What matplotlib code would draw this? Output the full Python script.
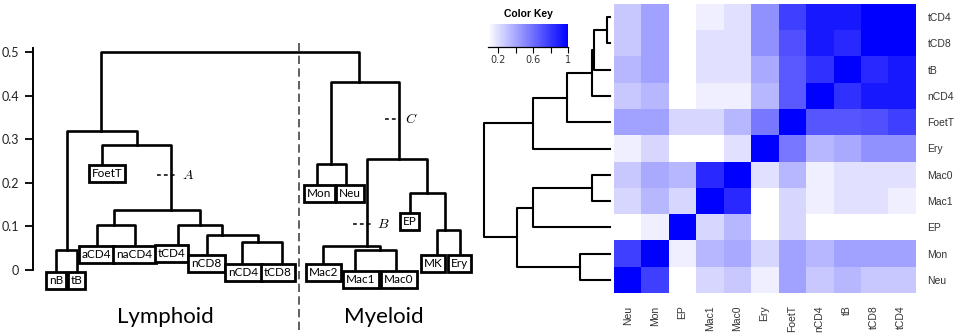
import matplotlib.pyplot as plt
from matplotlib.colors import LinearSegmentedColormap
from matplotlib.cm import ScalarMappable
from matplotlib.colors import Normalize

plt.rcParams["mathtext.fontset"] = "cm"

# ---- left panel: hand drawn tree (x in px, height in distance units) ----
tree_pos = {
    "root": (230, 0.500),
    "Lymph": (101, 0.319), "Myel": (359, 0.431),
    "BB": (66.7, 0.046), "L2": (136.7, 0.287),
    "T": (171, 0.138), "T1": (114, 0.103), "T2": (200, 0.103),
    "T3": (222, 0.080), "T4": (258, 0.065),
    "MN": (331, 0.243), "M2": (399, 0.255), "Mac": (367, 0.055),
    "M01": (380, 0.046), "EPg": (427, 0.177), "MKE": (445, 0.092),
    "nB": (56, 0.0), "tB": (77, 0.0), "FoetT": (102, 0.245),
    "aCD4": (97, 0.060), "naCD4": (135, 0.060), "tCD4": (178, 0.062),
    "nCD8": (207, 0.039), "nCD4": (242, 0.018), "tCD8": (282, 0.018),
    "Mon": (317, 0.200), "Neu": (346, 0.200), "Mac2": (323, 0.018),
    "Mac1": (355, 0.002), "Mac0": (396, 0.002), "EP": (410, 0.135),
    "MK": (437, 0.039), "Ery": (460, 0.039),
}
tree_merges = [
    ("root", "Lymph", "Myel"),
    ("Lymph", "BB", "L2"), ("BB", "nB", "tB"),
    ("L2", "FoetT", "T"), ("T", "T1", "T2"),
    ("T1", "aCD4", "naCD4"), ("T2", "tCD4", "T3"),
    ("T3", "nCD8", "T4"), ("T4", "nCD4", "tCD8"),
    ("Myel", "MN", "M2"), ("MN", "Mon", "Neu"),
    ("M2", "Mac", "EPg"), ("Mac", "Mac2", "M01"),
    ("M01", "Mac1", "Mac0"), ("EPg", "EP", "MKE"), ("MKE", "MK", "Ery"),
]
leaf_box_x = {
    "nB": 56, "tB": 76.5, "FoetT": 107, "aCD4": 96.5, "naCD4": 134.5,
    "tCD4": 171.5, "nCD8": 206.5, "nCD4": 243.5, "tCD8": 278,
    "Mon": 319.5, "Neu": 350, "Mac2": 323.5, "Mac1": 361, "Mac0": 399,
    "EP": 409.5, "MK": 433, "Ery": 459.5,
}
y_ticks = [0, 0.1, 0.2, 0.3, 0.4, 0.5]
# split markers: (x from, x to, height, label)
markers = [(157, 177, 0.218, "A"), (353, 372, 0.106, "B"), (385, 400, 0.346, "C")]

# ---- right panel: heatmap ----
heat_rows = ["tCD4", "tCD8", "tB", "nCD4", "FoetT", "Ery", "Mac0", "Mac1", "EP", "Mon", "Neu"]
heat_cols = ["Neu", "Mon", "EP", "Mac1", "Mac0", "Ery", "FoetT", "nCD4", "tB", "tCD8", "tCD4"]
heat_values = [
    [0.28, 0.42, 0.08, 0.14, 0.19, 0.48, 0.77, 0.91, 0.91, 1.00, 1.00],
    [0.28, 0.42, 0.08, 0.19, 0.19, 0.48, 0.71, 0.91, 0.85, 1.00, 1.00],
    [0.34, 0.42, 0.08, 0.19, 0.19, 0.39, 0.68, 0.82, 1.00, 0.85, 0.91],
    [0.28, 0.34, 0.08, 0.14, 0.14, 0.34, 0.68, 1.00, 0.82, 0.91, 0.91],
    [0.42, 0.42, 0.23, 0.23, 0.34, 0.57, 1.00, 0.69, 0.69, 0.71, 0.77],
    [0.14, 0.23, 0.08, 0.08, 0.19, 1.00, 0.57, 0.34, 0.39, 0.48, 0.48],
    [0.28, 0.39, 0.34, 0.85, 1.00, 0.19, 0.34, 0.14, 0.19, 0.19, 0.19],
    [0.23, 0.34, 0.23, 1.00, 0.85, 0.08, 0.23, 0.14, 0.19, 0.19, 0.14],
    [0.08, 0.14, 1.00, 0.23, 0.34, 0.08, 0.23, 0.08, 0.08, 0.08, 0.08],
    [0.77, 1.00, 0.14, 0.34, 0.39, 0.23, 0.42, 0.34, 0.42, 0.42, 0.42],
    [1.00, 0.77, 0.08, 0.23, 0.28, 0.14, 0.42, 0.28, 0.34, 0.28, 0.28],
]
# row dendrogram merges: (new node, a, b, height)
row_merges = [
    ("n1", "tCD4", "tCD8", 0.026), ("n2", "n1", "tB", 0.127),
    ("n3", "n2", "nCD4", 0.145), ("n4", "n3", "FoetT", 0.341),
    ("n5", "n4", "Ery", 0.611), ("n6", "Mac0", "Mac1", 0.143),
    ("n7", "n6", "EP", 0.611), ("n8", "Mon", "Neu", 0.238),
    ("n9", "n7", "n8", 0.74), ("n10", "n5", "n9", 1.0),
]
key_ticks = [0.2, 0.4, 0.6, 0.8, 1.0]
key_labels = ["0.2", "", "0.6", "", "1"]

W, H = 961, 333
fig = plt.figure(figsize=(W / 100, H / 100), dpi=100)

# left panel
ax = fig.add_axes([0, 0, 470 / W, 1])
ax.set_xlim(0, 470)
ax.set_ylim(-0.1445, 0.619)
for p, a, b in tree_merges:
    ph = tree_pos[p][1]
    xa, ha = tree_pos[a]
    xb, hb = tree_pos[b]
    ax.plot([xa, xa, xb, xb], [ha, ph, ph, hb], color="black", lw=1.9)
for name, bx in leaf_box_x.items():
    ax.text(bx, tree_pos[name][1] - 0.024, name, ha="center", va="center",
            family="Lato", fontsize=8.5, zorder=5,
            bbox=dict(boxstyle="square,pad=0.25", fc="white", ec="black", lw=2))
for x0, x1, h, lab in markers:
    ax.plot([x0, x1], [h, h], color="black", lw=1.1, linestyle=(0, (2.5, 2)))
    ax.text(x1 + 5, h, "$" + lab + "$", fontsize=10, va="center", ha="left")
ax.plot([299, 299], [0.521, -0.1445], color="#444444", lw=1.2, linestyle=(0, (5, 2.6)))
ax.text(165, -0.107, "Lymphoid", family="Lato", fontsize=16, ha="center", va="center")
ax.text(384, -0.107, "Myeloid", family="Lato", fontsize=16, ha="center", va="center")

for s in ["top", "right", "bottom"]:
    ax.spines[s].set_visible(False)
ax.spines["left"].set_position(("data", 33))
ax.spines["left"].set_bounds(0, 0.51)
ax.spines["left"].set_linewidth(1.4)
ax.set_xticks([])
ax.set_yticks(y_ticks)
ax.set_yticklabels([f"{t:g}" for t in y_ticks])
ax.tick_params(axis="y", length=6, width=1.3, pad=4, labelsize=9, labelcolor="#222222")
for lbl in ax.get_yticklabels():
    lbl.set_family("Lato")

# right panel: heatmap
cmap = LinearSegmentedColormap.from_list("wb", ["#ffffff", "#0000ff"])
hm_left, hm_right, hm_top, hm_bot = 614, 915, 4, 293
axh = fig.add_axes([hm_left / W, (H - hm_bot) / H, (hm_right - hm_left) / W, (hm_bot - hm_top) / H])
axh.imshow(heat_values, cmap=cmap, vmin=0.08, vmax=1, aspect="auto", interpolation="nearest")
for s in axh.spines.values():
    s.set_visible(False)
axh.set_xticks(range(len(heat_cols)))
axh.set_xticklabels(heat_cols, rotation=90, family="Liberation Sans", fontsize=7.5, color="#333333")
axh.yaxis.tick_right()
axh.set_yticks(range(len(heat_rows)))
axh.set_yticklabels(heat_rows, family="Liberation Sans", fontsize=7.5, color="#333333")
axh.tick_params(axis="x", length=0, pad=9)
axh.tick_params(axis="y", length=0, pad=9)

# row dendrogram
axd = fig.add_axes([470 / W, (H - hm_bot) / H, (hm_left - 470) / W, (hm_bot - hm_top) / H])
pos = {r: (i, 0.0) for i, r in enumerate(heat_rows)}
for node, a, b, h in row_merges:
    ya, ha = pos[a]
    yb, hb = pos[b]
    axd.plot([ha, h, h, hb], [ya, ya, yb, yb], color="black", lw=1.5)
    pos[node] = ((ya + yb) / 2, h)
axd.set_ylim(len(heat_rows) - 0.5, -0.5)
axd.set_xlim(140 / 126, -4 / 126)
axd.axis("off")

# colour key
cax = fig.add_axes([488 / W, (H - 47) / H, 80 / W, 23 / H])
cb = fig.colorbar(ScalarMappable(Normalize(0.08, 1), cmap), cax=cax, orientation="horizontal")
cb.outline.set_visible(False)
cb.set_ticks(key_ticks)
cb.set_ticklabels(key_labels)
cax.tick_params(length=4, width=0.8, labelsize=7, labelcolor="#333333", pad=2)
cax.axhline(0, color="black", lw=0.9, clip_on=False)
cax.set_title("Color Key", fontsize=7.5, fontweight="bold", family="Liberation Sans", pad=5)

fig.savefig("out.png", dpi=100)
